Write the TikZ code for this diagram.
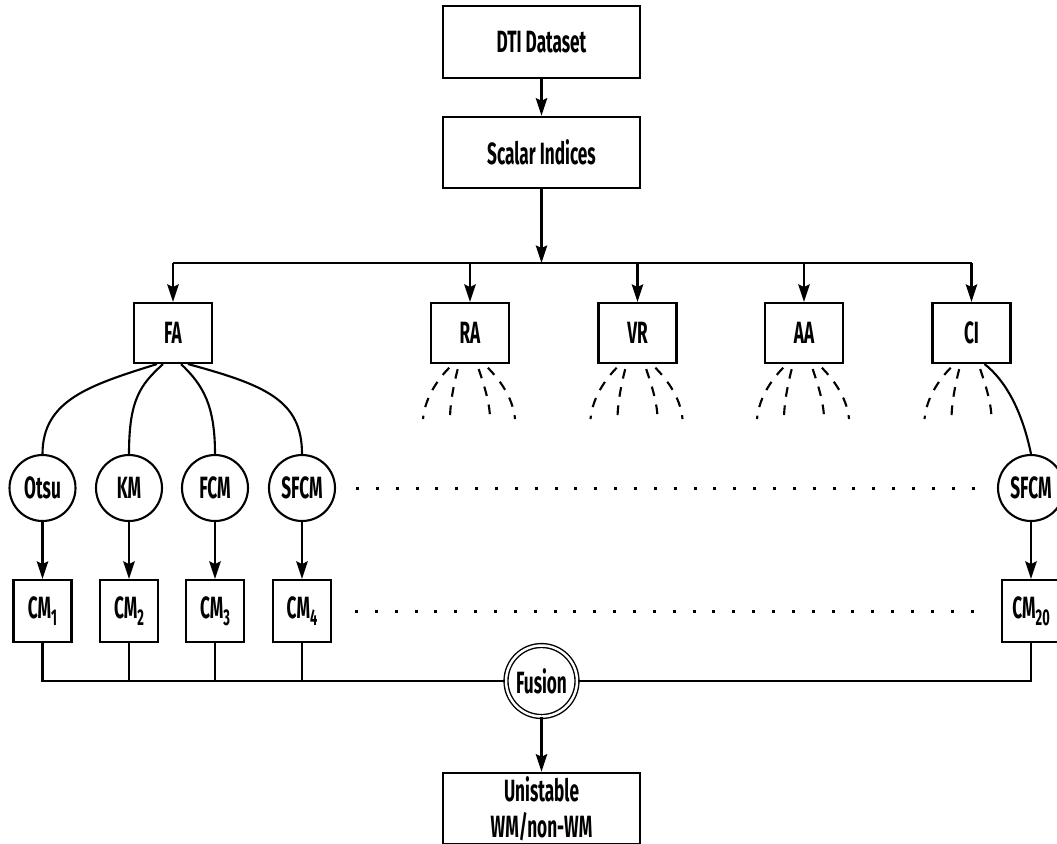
\documentclass[tikz,border=0pt]{standalone}
\usepackage{fontspec}
\setmainfont{Fira Sans}[FakeStretch=0.56]
\usetikzlibrary{arrows.meta,calc}
\newcommand{\sbs}[1]{\raisebox{-0.45ex}{\fontsize{13}{13}\selectfont #1}}
\begin{document}
\begin{tikzpicture}[x=0.02cm,y=-0.02cm,
  every node/.style={font=\fontsize{17.5}{15.5}\selectfont\bfseries},
  box/.style={draw, rectangle, line width=1.2pt, inner sep=0pt, align=center},
  bigbox/.style={box, minimum width=3.94cm, minimum height=1.43cm},
  idx/.style={box, minimum width=1.56cm, minimum height=1.2cm},
  cmbox/.style={box, minimum width=1.16cm, minimum height=1.24cm},
  circ/.style={draw, circle, line width=1.2pt, minimum size=1.32cm, inner sep=0pt},
  fus/.style={draw, circle, double, double distance=1.4pt, line width=0.8pt, minimum size=1.42cm, inner sep=0pt},
  arr/.style={-{Stealth[length=10pt,width=6.5pt,inset=1.5pt]}},
  link/.style={line width=1.2pt},
  fan/.style={line width=1.2pt, dash pattern=on 5.5pt off 5pt, dash phase=7.5pt},
  dotrow/.style={line width=1.7pt, dash pattern=on 1.7pt off 9.6pt},
]
\useasboundingbox (0,0) rectangle (1057,843);
\clip (0,0) rectangle (1057,843);

% boxes
\node[bigbox] (dti) at (541.5,42) {DTI Dataset};
\node[bigbox] (si) at (541.5,152.5) {Scalar Indices};
\node[idx] (fa) at (173,333) {FA};
\node[idx] (ra) at (470,333) {RA};
\node[idx] (vr) at (637.5,333) {VR};
\node[idx] (aa) at (804,333) {AA};
\node[idx] (ci) at (971.5,333) {CI};

% circles
\node[circ] (otsu) at (42.5,488) {Otsu};
\node[circ] (km) at (129,488) {KM};
\node[circ] (fcm) at (215,488) {FCM};
\node[circ] (sfcm) at (302,488) {SFCM};
\node[circ] (sfcmr) at (1031,488) {SFCM};

% CM boxes
\node[cmbox] (cm1) at (42.5,611) {CM\sbs{1}};
\node[cmbox] (cm2) at (129,611) {CM\sbs{2}};
\node[cmbox] (cm3) at (215,611) {CM\sbs{3}};
\node[cmbox] (cm4) at (302,611) {CM\sbs{4}};
\node[cmbox] (cm20) at (1031,611) {CM\sbs{20}};

\node[fus] (fusion) at (541.5,681) {Fusion};
\node[bigbox] (out) at (541.5,808.5) {Unistable\\[5pt]WM/non-WM};

% top connectors
\coordinate (bus) at (541.5,263);
\draw[link,arr] (dti) -- (si);
\draw[link,arr] (si) -- (bus);
\draw[link] (fa.north |- bus) -- (ci.north |- bus);
\foreach \n in {fa,ra,vr,aa,ci}
  \draw[link,arr] (\n.north |- bus) -- (\n.north);

% FA curves
\draw[link] (fa.south) ++(-16,0) .. controls (90,385) and (42.5,400) .. (otsu.north);
\draw[link] (fa.south) ++(-10,0) .. controls (140,385) and (129,400) .. (km.north);
\draw[link] (fa.south) ++(8,0) .. controls (203,385) and (215,405) .. (fcm.north);
\draw[link] (fa.south) ++(15,0) .. controls (265,385) and (302,400) .. (sfcm.north);

% dashed fans
\foreach \n in {ra,vr,aa,ci}{
  \begin{scope}[shift={(\n.south)}]
    \draw[fan] (-17,0) .. controls (-30,12) and (-45,32) .. (-47,55);
    \draw[fan] (-11,0) .. controls (-15,15) and (-20,37) .. (-20,55);
    \draw[fan] (7,0) .. controls (12,15) and (20,37) .. (20,55);
  \end{scope}
}
\foreach \n in {ra,vr,aa}{
  \begin{scope}[shift={(\n.south)}]
    \draw[fan] (14,0) .. controls (27,12) and (43,32) .. (45,55);
  \end{scope}
}
\draw[link] (ci.south) ++(13,0) .. controls (1005,380) and (1022,410) .. (sfcmr.north);

% circle to CM
\draw[link,arr] (otsu) -- (cm1);
\draw[link,arr] (km) -- (cm2);
\draw[link,arr] (fcm) -- (cm3);
\draw[link,arr] (sfcm) -- (cm4);
\draw[link,arr] (sfcmr) -- (cm20);

% dotted rows
\draw[dotrow, shorten <=0.4cm, shorten >=0.38cm] (sfcm.east) -- (sfcmr.west);
\draw[dotrow, shorten <=0.46cm, shorten >=0.44cm] (cm4.east) -- (cm20.west);

% fusion bus
\draw[link] (cm1.south) |- (fusion.west);
\draw[link] (cm2.south) -- (cm2.south |- fusion.west);
\draw[link] (cm3.south) -- (cm3.south |- fusion.west);
\draw[link] (cm4.south) -- (cm4.south |- fusion.west);
\draw[link] (cm20.south) |- (fusion.east);
\draw[link,arr] (fusion) -- (out);
\end{tikzpicture}
\end{document}
